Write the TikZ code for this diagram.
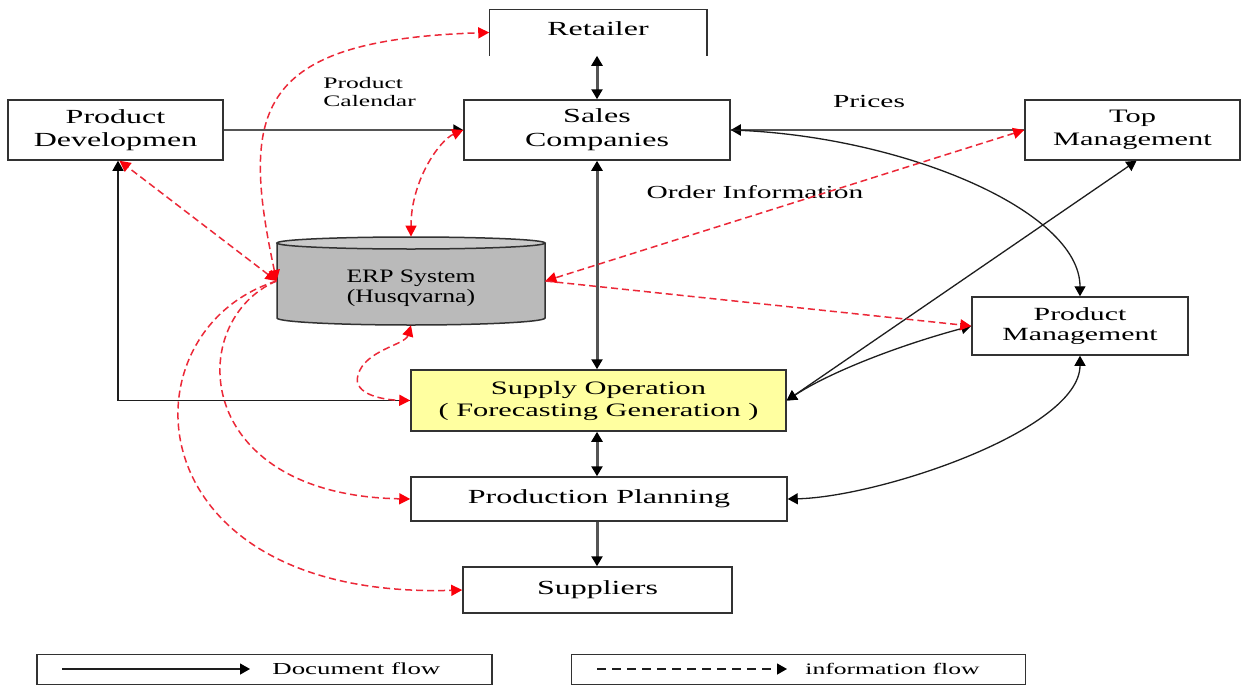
\documentclass[tikz,border=0pt]{standalone}
\usepackage{fontspec}
\setmainfont[FakeStretch=1.6]{Liberation Serif}
\newfontfamily\erpfont[FakeStretch=1.35]{Liberation Serif}
\usetikzlibrary{arrows.meta}

\definecolor{infored}{RGB}{236,40,56}
\definecolor{tipred}{RGB}{250,0,10}
\definecolor{boxline}{RGB}{50,50,50}
\definecolor{docline}{RGB}{30,30,30}
\definecolor{trunkgray}{RGB}{85,85,85}
\definecolor{erpgray}{RGB}{186,186,186}
\definecolor{erptop}{RGB}{202,202,202}
\definecolor{supplyfill}{RGB}{255,255,160}

\tikzset{
  blk/.tip={Triangle[length=5pt,width=5.5pt,color=black]},
  rtip/.tip={Triangle[length=5.5pt,width=5.5pt,color=tipred]},
  box/.style={draw=boxline, line width=0.75pt, fill=white, inner sep=0pt, align=center},
  doc/.style={draw=docline, line width=0.65pt, -blk},
  docboth/.style={doc, blk-blk},
  trunk/.style={draw=trunkgray, line width=1.5pt, blk-blk},
  info/.style={draw=infored, line width=0.75pt, dash pattern=on 3.5pt off 2pt, -rtip},
  infoboth/.style={info, rtip-rtip},
  lbl/.style={inner sep=0pt, align=left},
}

\begin{document}
\begin{tikzpicture}[x=0.5pt, y=-0.5pt]
\fill[white] (0,0) rectangle (1244,686);
\useasboundingbox (0,0) rectangle (1244,686);

% ---- boxes ----
\node[box, draw=none, minimum width=108pt, minimum height=22.5pt] (ret) at (598,32.5) {};
\draw[boxline, line width=0.75pt] (ret.south west) -- (ret.north west)
      -- (ret.north east) -- (ret.south east);
\node[lbl, font=\fontsize{10}{12}\selectfont] (rett) at (598,29) {Retailer};

\node[box, minimum width=133pt, minimum height=30pt,
      font=\fontsize{10}{12}\selectfont] (sales) at (597,130) {Sales\\Companies};
\node[box, minimum width=107.5pt, minimum height=30pt,
      font=\fontsize{10}{11.5}\selectfont] (pd) at (115.5,130) {Product\\Developmen};
\node[box, minimum width=107.5pt, minimum height=30pt,
      font=\fontsize{9.5}{11.5}\selectfont] (tm) at (1132.5,130) {Top\\Management};
\node[box, minimum width=108pt, minimum height=29pt,
      font=\fontsize{9.3}{10}\selectfont] (pm) at (1080,326) {Product\\Management};
\node[box, fill=supplyfill, minimum width=187.5pt, minimum height=30.5pt,
      font=\fontsize{9.5}{11}\selectfont] (supply) at (598.5,400.5)
      {Supply Operation\\( Forecasting Generation )};
\node[box, minimum width=188pt, minimum height=22pt,
      font=\fontsize{10}{12}\selectfont] (plan) at (599,499) {Production Planning};
\node[box, minimum width=134.5pt, minimum height=23pt,
      font=\fontsize{10}{12}\selectfont] (sup) at (597.5,590) {Suppliers};

% ---- ERP database cylinder ----
\fill[erpgray] (277,243) -- (277,318)
      arc[start angle=180, end angle=360, x radius=67pt, y radius=3.5pt] -- (545,243) -- cycle;
\draw[boxline, line width=0.75pt] (277,243) -- (277,318)
      arc[start angle=180, end angle=360, x radius=67pt, y radius=3.5pt] -- (545,243);
\draw[boxline, line width=0.75pt, fill=erptop] (411,243) ellipse [x radius=67pt, y radius=3pt];
\node[inner sep=0pt, minimum width=134pt, minimum height=44pt] (erp) at (411,281) {};
\node[lbl, align=center, font=\erpfont\fontsize{9.5}{10}\selectfont] (erpt) at (411,288)
      {ERP System\\(Husqvarna)};

% ---- text labels ----
\node[lbl, font=\fontsize{8}{9}\selectfont, anchor=west] (cal) at (323,92) {Product\\Calendar};
\node[lbl, font=\fontsize{9.2}{11}\selectfont] (prices) at (869,101) {Prices};
\node[lbl, font=\fontsize{9.2}{11}\selectfont] (order) at (755,192) {Order Information};

% ---- document flow ----
\draw[trunk] (sales.north) -- (sales.north |- ret.south);
\draw[trunk] (sales.south) -- (sales.south |- supply.north);
\draw[trunk] (sales.south |- supply.south) -- (sales.south |- plan.north);
\draw[trunk, -blk] (sales.south |- plan.south) -- (sales.south |- sup.north);
\draw[doc, draw=trunkgray, line width=1pt] (pd.east) -- (sales.west);
\draw[doc, draw=trunkgray, line width=1pt] (tm.west) -- (sales.east);
\draw[doc] (supply.west) -| ([xshift=1.25pt]pd.south);
\draw[doc] (sales.east) .. controls (900,135) and (1080,210) .. (pm.north);
\draw[docboth] (supply.east) -- ([xshift=2pt]tm.south);
\draw[docboth] (pm.west) .. controls (900,345) and (830,372) .. (supply.east);
\draw[docboth] (plan.east) .. controls (880,497) and (1080,430) .. (pm.south);

% ---- information flow ----
\draw[infoboth] (erp.west) .. controls (240,110) and (255,40) .. (ret.west);
\draw[infoboth] (erp.west) -- ([xshift=2pt]pd.south);
\draw[infoboth] (sales.west) .. controls (440,140) and (411,180) .. (erp.north);
\draw[infoboth] (tm.west) -- (erp.east);
\draw[info] (erp.east) -- (pm.west);
\draw[infoboth] (erp.south) .. controls (405,345) and (365,350) .. (358,375)
      .. controls (352,395) and (385,400) .. (supply.west);
\draw[info] (erp.west) .. controls (185,320) and (190,495) .. (plan.west);
\draw[info] (erp.west) .. controls (120,330) and (130,600) .. (sup.west);

% ---- legend ----
\node[box, minimum width=227.5pt, minimum height=15pt] (leg1) at (264.5,669.5) {};
\node[box, minimum width=227pt, minimum height=15pt] (leg2) at (798.5,669.5) {};
\coordinate (l1a) at (62,669);
\coordinate (l1b) at (250,669);
\coordinate (l2a) at (597,669);
\coordinate (l2b) at (787,669);
\draw[doc] (l1a) -- (l1b);
\draw[doc, dash pattern=on 4.5pt off 3pt] (l2a) -- (l2b);
\node[lbl, font=\fontsize{8.4}{10}\selectfont, anchor=west] (doct) at (272,669) {Document flow};
\node[lbl, font=\fontsize{8}{10}\selectfont, anchor=west] (inft) at (805,669) {information flow};
\end{tikzpicture}
\end{document}
